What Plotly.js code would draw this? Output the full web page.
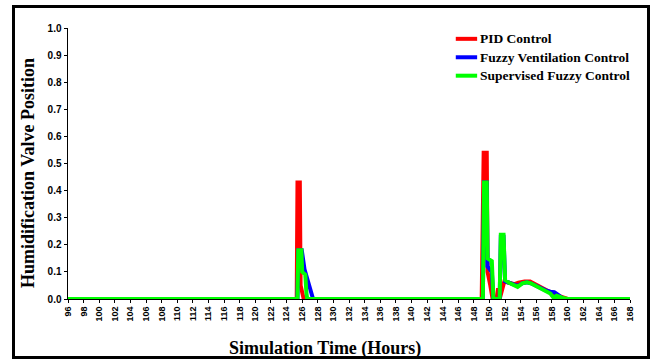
<!DOCTYPE html>
<html>
<head>
<meta charset="utf-8">
<script src="https://cdn.plot.ly/plotly-3.0.1.min.js"></script>
<style>
  html, body { margin: 0; padding: 0; background: #fff; }
  #chart { width: 656px; height: 360px; position: absolute; left: 0; top: 0; }
  #frame { position: absolute; left: 12px; top: 5px; width: 632px; height: 348px;
           border: 3px solid #000; pointer-events: none; }
</style>
</head>
<body>
<div id="chart"></div>
<div id="frame"></div>
<script>
// Series names
const seriesNames = ["PID Control", "Fuzzy Ventilation Control", "Supervised Fuzzy Control"];
const seriesColors = ["#ff0000", "#0000ff", "#00ff00"];

// PID Control (hours, valve position)
const pidHours = [96, 125.3, 125.4, 125.7, 125.8, 126.0, 126.2, 149.0, 149.1, 149.25, 149.65, 149.75, 150.1, 150.4, 150.9, 151.1, 151.3, 151.9, 152.5, 153.2, 153.7, 154.5, 155.2, 155.8, 156.5, 157.2, 157.8, 158.5, 159.3, 160.0, 168];
const pidValues = [0, 0, 0.43, 0.43, 0.05, 0.02, 0, 0, 0.27, 0.54, 0.54, 0.10, 0.05, 0, 0, 0.04, 0, 0.065, 0.06, 0.055, 0.06, 0.065, 0.065, 0.055, 0.045, 0.035, 0.025, 0.015, 0.008, 0, 0];

// Fuzzy Ventilation Control
const fuzzyHours = [96, 125.4, 125.5, 125.95, 126.3, 126.7, 127.1, 127.4, 149.15, 149.3, 149.65, 149.75, 150.3, 150.5, 151.3, 151.45, 151.8, 152.0, 152.5, 153.2, 153.6, 154.2, 154.8, 155.3, 155.9, 156.5, 157.2, 157.8, 158.3, 158.8, 159.5, 168];
const fuzzyValues = [0, 0, 0.18, 0.18, 0.11, 0.07, 0.03, 0, 0, 0.43, 0.43, 0.12, 0.10, 0, 0, 0.23, 0.23, 0.065, 0.06, 0.05, 0.048, 0.058, 0.062, 0.058, 0.05, 0.04, 0.032, 0.027, 0.025, 0.015, 0, 0];

// Supervised Fuzzy Control
const supHours = [96, 125.4, 125.5, 125.9, 126.0, 126.4, 126.55, 126.65, 149.15, 149.3, 149.65, 149.75, 150.3, 150.5, 151.3, 151.45, 151.8, 152.0, 152.5, 153.2, 153.6, 154.2, 154.8, 155.3, 155.9, 156.5, 157.2, 157.8, 158.2, 158.6, 159.3, 160.0, 168];
const supValues = [0, 0, 0.18, 0.18, 0.10, 0.09, 0.02, 0, 0, 0.43, 0.43, 0.15, 0.14, 0, 0, 0.237, 0.237, 0.07, 0.06, 0.05, 0.045, 0.058, 0.062, 0.058, 0.048, 0.04, 0.03, 0.02, 0.005, 0.012, 0.005, 0, 0];

// Axis ticks
const xTickVals = [];
for (let h = 96; h <= 168; h += 2) xTickVals.push(h);
const yTickVals = [0, 0.1, 0.2, 0.3, 0.4, 0.5, 0.6, 0.7, 0.8, 0.9, 1.0];

// Titles
const xTitle = "Simulation Time (Hours)";
const yTitle = "Humidification Valve Position";

const xs = [pidHours, fuzzyHours, supHours];
const ys = [pidValues, fuzzyValues, supValues];

const serif = "Liberation Serif, Times New Roman, serif";
const sans = "Liberation Sans, Arial, sans-serif";

const traces = seriesNames.map((name, i) => ({
  x: xs[i], y: ys[i], name: name, type: "scatter", mode: "lines",
  line: { color: seriesColors[i], width: 4 },
  showlegend: false
}));

// custom legend built from series names
const legendX0 = 0.69, legendY0 = 0.96, legendStep = 0.068;
const shapes = [], annotations = [];
seriesNames.forEach((name, i) => {
  const yy = legendY0 - i * legendStep;
  shapes.push({ type: "line", xref: "paper", yref: "paper", x0: legendX0, x1: legendX0 + 0.038, y0: yy, y1: yy,
                line: { color: seriesColors[i], width: 4 } });
  annotations.push({ xref: "paper", yref: "paper", x: legendX0 + 0.039, y: yy, xanchor: "left", yanchor: "middle",
                     text: "<b>" + name + "</b>", showarrow: false, font: { family: serif, size: 13.5, color: "#000" } });
});

// axis titles placed as annotations to match original offsets
annotations.push({ xref: "paper", yref: "paper", x: 0.458, y: 0, yshift: -49, xanchor: "center", yanchor: "middle",
                   text: "<b>" + xTitle + "</b>", showarrow: false, font: { family: serif, size: 18, color: "#000" } });
annotations.push({ xref: "paper", yref: "paper", x: -0.0712, y: 0.465, xanchor: "center", yanchor: "middle",
                   textangle: -90, text: "<b>" + yTitle + "</b>", showarrow: false, font: { family: serif, size: 18, color: "#000" } });

const layout = {
  width: 656, height: 360,
  margin: { l: 68, r: 26, t: 28, b: 61 },
  paper_bgcolor: "#fff", plot_bgcolor: "#fff",
  showlegend: false,
  xaxis: {
    range: [96, 168], tickvals: xTickVals, ticktext: xTickVals.map(String),
    tickangle: -90, ticks: "outside", ticklen: 3, tickcolor: "#000",
    showgrid: false, zeroline: false, showline: true, linecolor: "#000", linewidth: 1,
    layer: "below traces",
    tickfont: { family: sans, size: 9, color: "#000", weight: "bold" }
  },
  yaxis: {
    range: [0, 1.0], tickvals: yTickVals, tickformat: ".1f",
    ticks: "outside", ticklen: 3, tickcolor: "#000",
    showgrid: false, zeroline: false, showline: true, linecolor: "#000", linewidth: 1.5,
    layer: "below traces",
    tickfont: { family: sans, size: 10, color: "#000", weight: "bold" }
  },
  shapes: shapes,
  annotations: annotations
};

Plotly.newPlot("chart", traces, layout, { displayModeBar: false, staticPlot: true });
</script>
</body>
</html>
